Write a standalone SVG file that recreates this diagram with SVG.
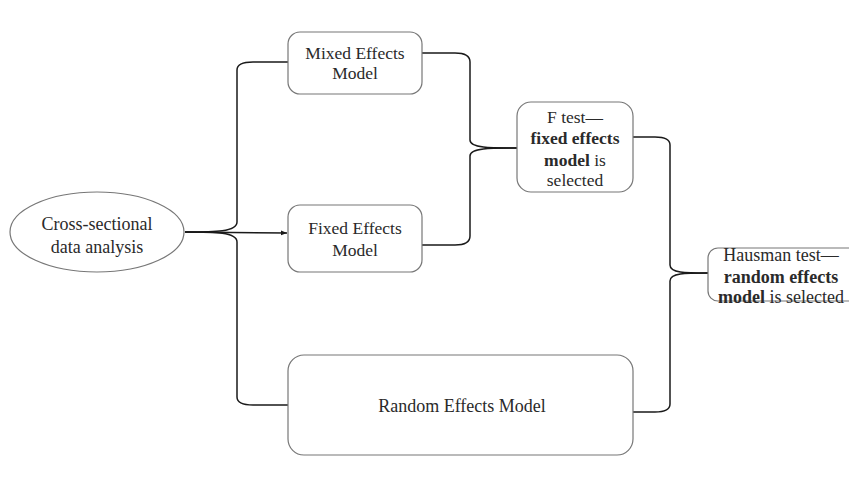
<svg xmlns="http://www.w3.org/2000/svg" width="849" height="483" viewBox="0 0 849 483">
<defs>
<style>
.box{fill:#fff;stroke:#777;stroke-width:1.2}
.t{font-family:"Liberation Serif","Times New Roman",serif;font-size:17.5px;fill:#2a2a2a;text-anchor:middle}
.b{font-weight:bold}
.c{fill:none;stroke:#1a1a1a;stroke-width:1.5}
</style>
<marker id="ah" viewBox="0 0 10 10" refX="10" refY="5" markerWidth="6" markerHeight="6" orient="auto" markerUnits="userSpaceOnUse">
<path d="M0,1 L10,5 L0,9 z" fill="#1a1a1a"/>
</marker>
</defs>
<rect width="849" height="483" fill="#fff"/>
<g id="connectors">
<path class="c" d="M185,232 C215,232 237,232 237,222 L237,70 Q237,62 253,62 L288,62"/>
<path class="c" d="M185,232 L287,233" marker-end="url(#ah)"/>
<path class="c" d="M185,232 C215,232 237,232 237,242 L237,397 Q237,405 253,405 L288,405"/>
<path class="c" d="M422,53 L455,53 Q470,53 470,62 L470,140 C470,148 490,148 517,148"/>
<path class="c" d="M422,245 L455,245 Q470,245 470,236 L470,156 C470,148 490,148 517,148"/>
<path class="c" d="M633,137 L655,137 Q670,137 670,145 L670,265 C670,273 685,273 708,273"/>
<path class="c" d="M633,412 L655,412 Q670,412 670,404 L670,281 C670,273 685,273 708,273"/>
</g>
<g id="cross">
<ellipse class="box" cx="97" cy="232" rx="87" ry="40"/>
<text class="t" x="97" y="230" style="font-size:18px">Cross-sectional</text>
<text class="t" x="97" y="253" style="font-size:18px">data analysis</text>
</g>
<g id="mixed">
<rect class="box" x="288" y="32" width="134" height="62" rx="12"/>
<text class="t" x="355" y="59">Mixed Effects</text>
<text class="t" x="355" y="79">Model</text>
</g>
<g id="fixed">
<rect class="box" x="288" y="205" width="134" height="67" rx="12"/>
<text class="t" x="355" y="234">Fixed Effects</text>
<text class="t" x="355" y="256">Model</text>
</g>
<g id="random">
<rect class="box" x="288" y="355" width="345" height="100" rx="16"/>
<text class="t" x="462" y="412" style="font-size:18px">Random Effects Model</text>
</g>
<g id="ftest">
<rect class="box" x="517" y="102" width="116" height="90" rx="14"/>
<text class="t" x="575" y="123">F test—</text>
<text class="t b" x="575" y="144">fixed effects</text>
<text class="t" x="575" y="166"><tspan class="b">model</tspan> is</text>
<text class="t" x="575" y="186">selected</text>
</g>
<g id="hausman">
<rect class="box" x="708" y="248" width="160" height="53" rx="10"/>
<text class="t" x="781" y="261" style="font-size:18px">Hausman test—</text>
<text class="t b" x="781" y="283" style="font-size:18px">random effects</text>
<text class="t" x="781" y="303" style="font-size:18px"><tspan class="b">model</tspan> is selected</text>
</g>
</svg>
